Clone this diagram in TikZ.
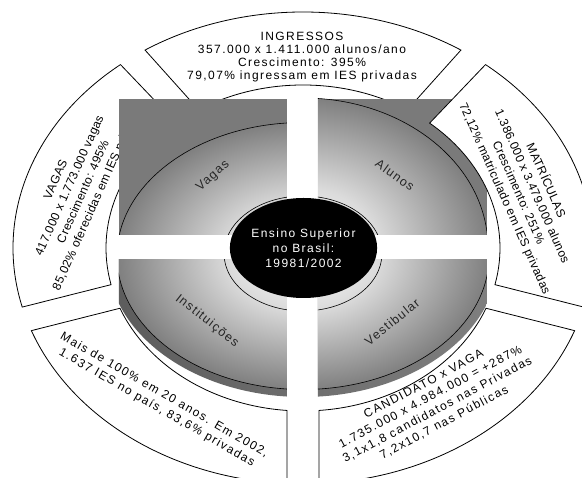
\documentclass[tikz,border=0pt]{standalone}
\usepackage{fontspec}
\setmainfont{Liberation Sans}
\newfontfamily\spreadfont[LetterSpace=12]{Liberation Sans}
\newfontfamily\closefont[LetterSpace=3]{Liberation Sans}
\newfontfamily\labelfont[LetterSpace=10]{Liberation Sans}
\usetikzlibrary{shapes.geometric}
\pgfdeclareradialshading{facesh}{\pgfpoint{0bp}{0bp}}{color(0bp)=(white); color(10bp)=(black!14); color(25bp)=(black!50); color(50bp)=(black!50)}
\tikzstyle{seg}=[draw=black, fill=white, line width=0.8pt]
\tikzstyle{outerarc}=[x radius=290pt, y radius=236pt]
\tikzstyle{innerarc}=[x radius=197pt, y radius=163pt]
\tikzstyle{toptext}=[align=center, inner sep=0pt, font={\spreadfont\fontsize{12}{13}\selectfont}]
\tikzstyle{sidetext}=[align=center, inner sep=0pt, font={\closefont\fontsize{12}{15}\selectfont}]
\tikzstyle{lowtext}=[align=center, inner sep=0pt, font={\spreadfont\fontsize{12}{14.5}\selectfont}]
\tikzstyle{quadbg}=[fill=black!52]
\tikzstyle{side}=[left color=black!64, middle color=black!40, right color=black!50]
\tikzstyle{face}=[shading=facesh, draw=black, line width=0.6pt]
\tikzstyle{hole}=[draw=black, line width=0.6pt]
\tikzstyle{facelabel}=[inner sep=0pt, text=black!85, font={\labelfont\fontsize{12.5}{14}\selectfont}]
\tikzstyle{hub}=[ellipse, fill=black, minimum width=123pt, minimum height=100pt, inner sep=0pt, text=white, align=center, font={\spreadfont\fontsize{12}{15}\selectfont}]

\begin{document}
\begin{tikzpicture}[x=1pt, y=1pt]
\useasboundingbox (-303,-230) rectangle (279,248);
\clip (-303,-230) rectangle (279,248);
\fill[white] (-303,-230) rectangle (279,248);

% outer ring
\draw[seg] (57:290pt and 236pt) arc[start angle=57, end angle=123, outerarc] -- (122:197pt and 163pt) arc[start angle=122, end angle=58, innerarc] -- cycle;
\draw[seg] (129:290pt and 236pt) arc[start angle=129, end angle=194.5, outerarc] -- (193:197pt and 163pt) arc[start angle=193, end angle=130, innerarc] -- cycle;
\draw[seg] (200.5:290pt and 236pt) arc[start angle=200.5, end angle=266.84, outerarc] -- (265.34:197pt and 163pt) arc[start angle=265.34, end angle=201.7, innerarc] -- cycle;
\draw[seg] (273.16:290pt and 236pt) arc[start angle=273.16, end angle=339.5, outerarc] -- (338.3:197pt and 163pt) arc[start angle=338.3, end angle=274.66, innerarc] -- cycle;

\node[toptext] (ingressos) at (-1,191) {INGRESSOS\\357.000 x 1.411.000 alunos/ano\\Crescimento: 395\%\\79,07\% ingressam em IES privadas};
\node[sidetext, rotate=66] (vagas) at (-226,59) {VAGAS\\417.000 x 1.773.000 vagas\\Crescimento: 495\%\\85,02\% oferecidas em IES privadas};
\node[lowtext, rotate=-30] (instituicoes) at (-142.5,-153.5) {Mais de 100\% em 20 anos. Em 2002,\\1.637 IES no país, 83,6\% privadas};
\node[lowtext, rotate=28] (vestibular) at (131,-155.6) {CANDIDATO x VAGA\\1.735.000 x 4.984.000 = +287\%\\3,1x1,8 candidatos nas Privadas\\7,2x10,7 nas Públicas};

% upper left
\begin{scope}
\clip (-184,13) rectangle (-16,149);
\fill[quadbg] (-184,13) rectangle (-16,149);
\shade[face] (0,-8) ellipse [x radius=186pt, y radius=133.5pt];
\draw[hole] (0,-5.5) ellipse [x radius=79pt, y radius=57.5pt];
\end{scope}
% upper right
\begin{scope}
\clip (15,13) rectangle (184,149);
\fill[quadbg] (15,13) rectangle (184,149);
\shade[face] (0,0) ellipse [x radius=185pt, y radius=150pt];
\draw[hole] (0,-5.5) ellipse [x radius=79pt, y radius=57.5pt];
\end{scope}
% lower left
\begin{scope}
\clip (-184,-12) rectangle (-16,-160);
\shade[side] (0,-8) ellipse [x radius=195.5pt, y radius=141pt];
\shade[face] (0,-8) ellipse [x radius=186pt, y radius=133.5pt];
\draw[hole] (0,-5.5) ellipse [x radius=79pt, y radius=57.5pt];
\end{scope}
% lower right
\begin{scope}
\clip (15,-12) rectangle (184,-160);
\shade[side] (0,-8) ellipse [x radius=195.5pt, y radius=141pt];
\shade[face] (0,-8) ellipse [x radius=186pt, y radius=133.5pt];
\draw[hole] (0,-5.5) ellipse [x radius=79pt, y radius=57.5pt];
\end{scope}

\draw[seg] (345.5:290pt and 236pt) arc[start angle=345.5, end angle=411, outerarc] -- (410:197pt and 163pt) arc[start angle=410, end angle=347, innerarc] -- cycle;
\node[sidetext, rotate=-66] (matriculas) at (222.5,58.5) {MATRÍCULAS\\1.386.000 x 3.479.000 alunos\\Crescimento: 251\%\\72,12\% matriculado em IES privadas};

\node[facelabel, rotate=42] (lvagas) at (-90,72) {Vagas};
\node[facelabel, rotate=-36] (lalunos) at (92,73) {Alunos};
\node[facelabel, rotate=-38] (linst) at (-96,-73) {Instituições};
\node[facelabel, rotate=39] (lvest) at (89,-74) {Vestibular};

\node[hub] (centro) at (0.5,0) {Ensino Superior\\no Brasil:\\19981/2002};
\end{tikzpicture}
\end{document}
